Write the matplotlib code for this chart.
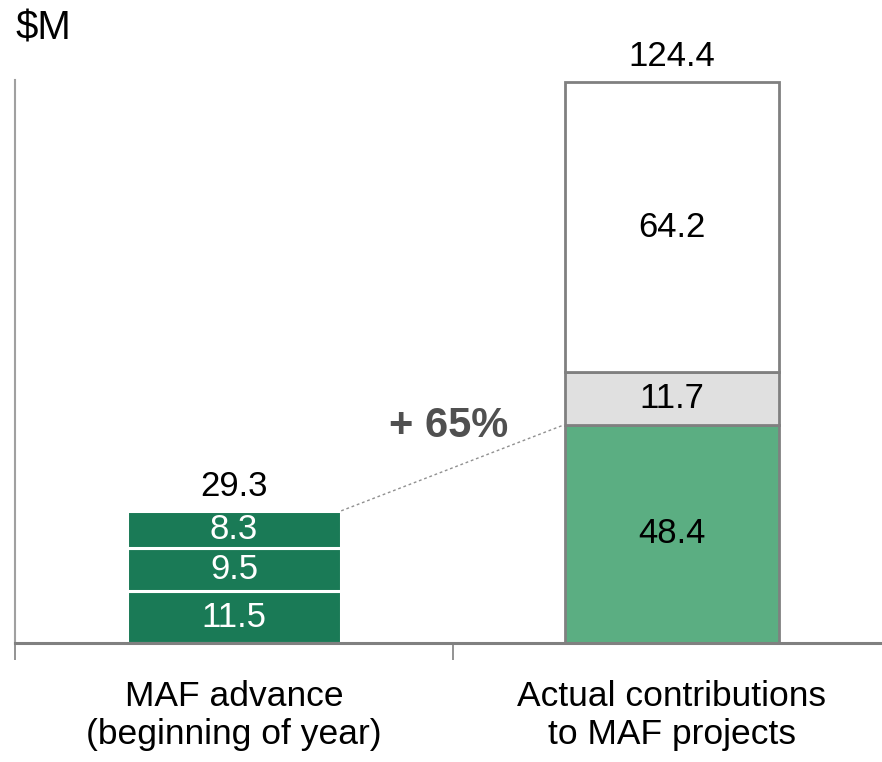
import matplotlib
matplotlib.use("Agg")
import matplotlib.pyplot as plt

plt.rcParams['font.family'] = ['Liberation Sans', 'DejaVu Sans']

categories = ["MAF advance\n(beginning of year)", "Actual contributions\nto MAF projects"]
advance_segments = [11.5, 9.5, 8.3]
advance_total = 29.3
actual_segments = [48.4, 11.7, 64.2]
actual_total = 124.4
growth_label = "+ 65%"

fig = plt.figure(figsize=(8.82, 7.62), dpi=100)
ax = fig.add_axes([15 / 882, 1 - 643 / 762, 867 / 882, (643 - 80) / 762])

width = 0.49
x0, x1 = 0, 1

# left bar: dark green stacked segments separated by white gaps
bottom = 0
for v in advance_segments:
    ax.bar(x0, v, width, bottom=bottom, color="#1a7a56", edgecolor="white", linewidth=2.2)
    ax.text(x0, bottom + v / 2, f"{v}", ha="center", va="center", color="white", fontsize=25)
    bottom += v
ax.text(x0, advance_total + 3.3, f"{advance_total}", ha="center", va="baseline", fontsize=25)

# right bar: outlined stacked segments
colors = ["#5bae82", "#e0e0e0", "white"]
bottom = 0
for v, c in zip(actual_segments, colors):
    ax.bar(x1, v, width, bottom=bottom, color=c, edgecolor="#808080", linewidth=2)
    ax.text(x1, bottom + v / 2, f"{v}", ha="center", va="center", color="black", fontsize=25)
    bottom += v
ax.text(x1, actual_total + 3.5, f"{actual_total}", ha="center", va="baseline", fontsize=25)

# dotted connector between the two green tops
ax.plot([x0 + width / 2, x1 - width / 2], [advance_total, actual_segments[0]],
        linestyle=(0, (2, 2)), color="#909090", linewidth=1)
ax.text(0.49, 48.0, growth_label, ha="center", va="center", fontsize=30,
        fontweight="bold", color="#505050")

ax.set_yticks([])
ax.set_xticks([-0.5, 0.5, 1.5])
ax.set_xticklabels([])
ax.set_xlim(-0.5, 1.48)
ax.set_ylim(0, 124.8)
ax.tick_params(axis="x", length=12, width=1.2, color="#808080", direction="out")
for s in ["top", "right"]:
    ax.spines[s].set_visible(False)
ax.spines["left"].set_color("#a0a0a0")
ax.spines["left"].set_linewidth(1.5)
ax.spines["bottom"].set_color("#808080")
ax.spines["bottom"].set_linewidth(2.2)

for x, lab in zip([x0, x1], categories):
    ax.text(x, -8.2, lab, ha="center", va="top", fontsize=25.5, linespacing=1.2)

fig.text(15 / 882, 1 - 28 / 762, "$M", ha="left", va="center", fontsize=29)

fig.savefig("out.png", dpi=100)
